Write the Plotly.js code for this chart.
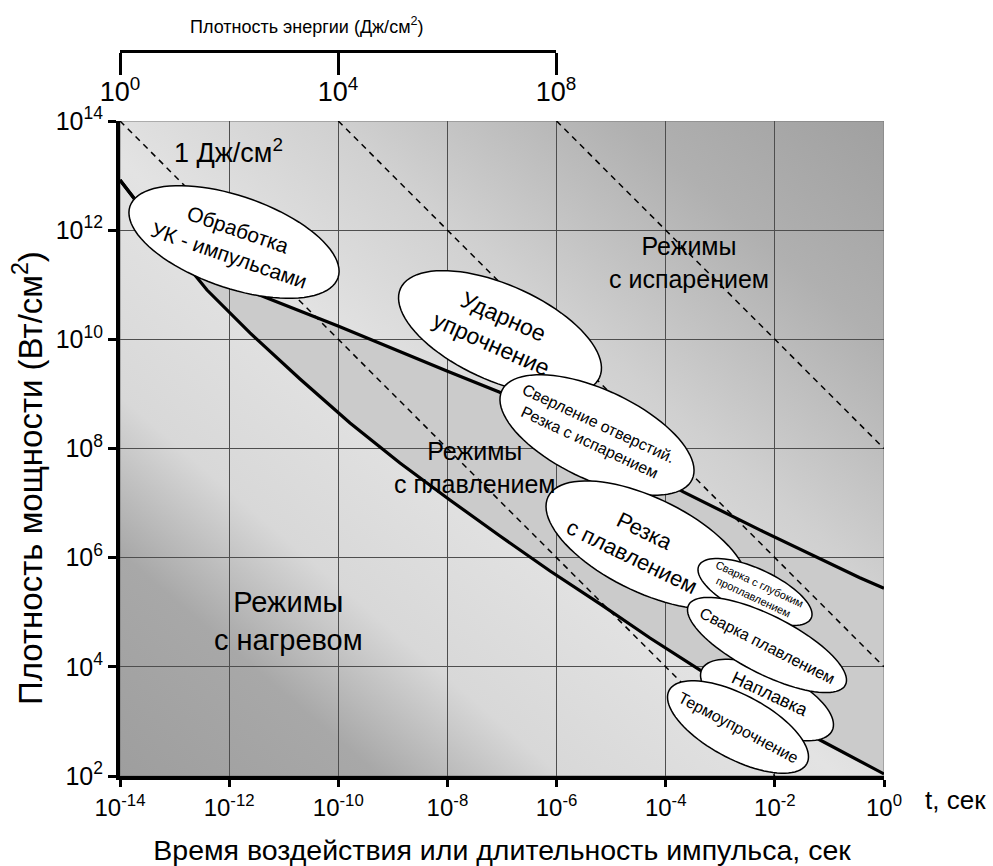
<!DOCTYPE html>
<html><head><meta charset="utf-8">
<script src="https://cdn.plot.ly/plotly-3.0.1.min.js"></script>
<style>html,body{margin:0;padding:0;background:#fff}</style>
</head><body>
<div id="chart" style="width:993px;height:866px"></div>
<script>
// ---------- data ----------
const xTickVals = [1e-14, 1e-12, 1e-10, 1e-8, 1e-6, 1e-4, 1e-2, 1];
const xTickText = ['10<sup>-14</sup>', '10<sup>-12</sup>', '10<sup>-10</sup>', '10<sup>-8</sup>', '10<sup>-6</sup>', '10<sup>-4</sup>', '10<sup>-2</sup>', '10<sup>0</sup>'];
const yTickVals = [1e2, 1e4, 1e6, 1e8, 1e10, 1e12, 1e14];
const yTickText = ['10<sup>2</sup>', '10<sup>4</sup>', '10<sup>6</sup>', '10<sup>8</sup>', '10<sup>10</sup>', '10<sup>12</sup>', '10<sup>14</sup>'];
const energyTickVals = [1, 1e4, 1e8];
const energyTickText = ['10<sup>0</sup>', '10<sup>4</sup>', '10<sup>8</sup>'];
// constant-energy (J/cm2) dashed lines
const energyLevels = [1, 1e4, 1e8];
// upper boundary (evaporation threshold)
const upperT = [1e-14, 5.4e-14, 2.9e-13, 1.58e-12, 6.3e-12, 9.9e-11, 9.8e-9, 9.1e-8, 6.3e-6, 2.1e-4, 5.4e-3, 0.36, 1];
const upperP = [8.3e12, 9.25e11, 2.03e11, 9.1e10, 5.2e10, 1.75e10, 2.63e9, 1.07e9, 1.15e8, 1.6e7, 3.2e6, 4.3e5, 2.75e5];
// lower boundary (melting threshold)
const lowerT = [1e-14, 5.4e-14, 3.93e-13, 2.41e-12, 1.99e-11, 1.64e-10, 1.35e-9, 1.11e-8, 9.2e-8, 7.6e-7, 6.25e-6, 5.15e-5, 4.26e-4, 5.35e-3, 6.73e-2, 1];
const lowerP = [8.3e12, 9.25e11, 8.0e10, 1.31e10, 1.88e9, 2.93e8, 5.42e7, 1.14e7, 2.49e6, 5.7e5, 1.42e5, 3.37e4, 8.7e3, 1.91e3, 4.56e2, 1.09e2];

// ---------- geometry / style ----------
const FONT = 'Liberation Sans, Arial, sans-serif';
const ML = 120, MR = 109, MT = 40, MB = 90, FW = 993, FH = 866;
const PW = FW - ML - MR, PH = FH - MT - MB;      // 764 x 736
const PLOT_BOTTOM = FH - MB;                       // 776
const PLOT_TOP_PX = 121;
const yDomTop = (PLOT_BOTTOM - PLOT_TOP_PX) / PH;
const px2x = p => (p - ML) / PW;
const py2y = p => (PLOT_BOTTOM - p) / PH;

// ellipse labels (pixel layout)
const bubbles = [
  {cx: 234, cy: 242, a: 110, b: 46, ang: 19, tx: 233, ty: 242, text: 'Обработка<br>УК - импульсами', size: 21},
  {cx: 500, cy: 333, a: 109, b: 48, ang: 24, tx: 497, ty: 330, text: 'Ударное<br>упрочнение', size: 23},
  {cx: 597, cy: 435, a: 105, b: 45, ang: 25, tx: 594, ty: 433, text: 'Сверление отверстий.<br>Резка с испарением', size: 16},
  {cx: 647, cy: 545, a: 110, b: 47, ang: 26, tx: 638, ty: 544, text: 'Резка<br>с плавлением', size: 22},
  {cx: 755, cy: 592, a: 62, b: 23, ang: 25, tx: 756, ty: 590, text: 'Сварка с глубоким<br>проплавлением', size: 11},
  {cx: 767, cy: 700, a: 72, b: 30, ang: 25, tx: 770, ty: 694, text: 'Наплавка', size: 18},
  {cx: 767, cy: 645, a: 88, b: 29, ang: 27, tx: 767, ty: 645, text: 'Сварка плавлением', size: 16},
  {cx: 738, cy: 727, a: 78, b: 32, ang: 28, tx: 738, ty: 727, text: 'Термоупрочнение', size: 16}
];

function ellipsePath(e) {
  const n = 90, phi = e.ang * Math.PI / 180;
  let s = '';
  for (let k = 0; k < n; k++) {
    const t = 2 * Math.PI * k / n;
    const dx = e.a * Math.cos(t) * Math.cos(phi) - e.b * Math.sin(t) * Math.sin(phi);
    const dy = e.a * Math.cos(t) * Math.sin(phi) + e.b * Math.sin(t) * Math.cos(phi);
    s += (k === 0 ? 'M' : 'L') + px2x(e.cx + dx).toFixed(5) + ',' + py2y(e.cy + dy).toFixed(5) + ' ';
  }
  return s + 'Z';
}

// background gradient (diagonal light band)
const gradSvg = "<svg xmlns='http://www.w3.org/2000/svg' width='764' height='655' viewBox='0 0 764 655' preserveAspectRatio='none'>" +
  "<defs><linearGradient id='g' x1='0' y1='1' x2='1' y2='0'>" +
  "<stop offset='0' stop-color='#9e9e9e'/>" +
  "<stop offset='0.17' stop-color='#a8a8a8'/>" +
  "<stop offset='0.29' stop-color='#d8d8d8'/>" +
  "<stop offset='0.47' stop-color='#e3e3e3'/>" +
  "<stop offset='0.64' stop-color='#d0d0d0'/>" +
  "<stop offset='0.83' stop-color='#b0b0b0'/>" +
  "<stop offset='1' stop-color='#a0a0a0'/>" +
  "</linearGradient></defs><rect width='764' height='655' fill='url(#g)'/></svg>";

// band between the two boundaries
let bandPath = 'M' + upperT.map((t, i) => t + ',' + upperP[i]).join(' L');
for (let i = lowerT.length - 1; i >= 0; i--) bandPath += ' L' + lowerT[i] + ',' + lowerP[i];
bandPath += ' Z';

// ---------- traces ----------
const traces = [];
energyLevels.forEach(E => {
  const tStart = E / 1e14, tEnd = Math.min(1, E / 1e2);
  traces.push({x: [tStart, tEnd], y: [E / tStart, E / tEnd], mode: 'lines', xaxis: 'x', yaxis: 'y',
    line: {color: '#000', width: 1.5, dash: '6px,5px'}, hoverinfo: 'skip', showlegend: false});
});
traces.push({x: upperT, y: upperP, mode: 'lines', line: {color: '#000', width: 3.2}, hoverinfo: 'skip', showlegend: false});
traces.push({x: lowerT, y: lowerP, mode: 'lines', line: {color: '#000', width: 3.2}, hoverinfo: 'skip', showlegend: false});
traces.push({x: energyTickVals, y: [0.5, 0.5, 0.5], xaxis: 'x2', yaxis: 'y2', mode: 'markers',
  marker: {opacity: 0}, hoverinfo: 'skip', showlegend: false});

// ---------- shapes ----------
const shapes = [
  {type: 'path', xref: 'x', yref: 'y', path: bandPath, fillcolor: '#cbcbcb', line: {width: 0}, layer: 'below'},
  {type: 'rect', xref: 'x', yref: 'y', x0: 1e-14, x1: 1, y0: 1e2, y1: 1e14, fillcolor: 'rgba(0,0,0,0)', line: {color: '#7a7a7a', width: 1}, layer: 'below'}
];
bubbles.forEach(e => shapes.push({type: 'path', xref: 'paper', yref: 'paper', path: ellipsePath(e),
  fillcolor: '#ffffff', line: {color: '#000', width: 1.5}, layer: 'above'}));

// ---------- annotations ----------
const ann = [];
const addText = (px, py, text, size, angle) => ann.push({xref: 'paper', yref: 'paper', x: px2x(px), y: py2y(py),
  text: text, showarrow: false, textangle: angle || 0, font: {family: FONT, size: size, color: '#000'},
  xanchor: 'center', yanchor: 'middle'});
bubbles.forEach(e => addText(e.tx, e.ty, e.text, e.size, e.ang));
addText(228, 151, '1 Дж/см<sup>2</sup>', 27);
addText(689, 262, 'Режимы<br>с испарением', 25);
addText(475, 467, 'Режимы<br>с плавлением', 25);
addText(288, 621, 'Режимы<br>с нагревом', 29);
addText(307, 25, 'Плотность энергии (Дж/см<sup>2</sup>)', 18);
addText(955, 800, 't, сек', 26);
addText(28, 478, 'Плотность мощности (Вт/см<sup>2</sup>)', 33, -90);

const axisCommon = {
  type: 'log', showgrid: true, gridcolor: '#4e4e4e', gridwidth: 1, zeroline: false,
  showline: true, linecolor: '#000', linewidth: 4,
  ticks: 'outside', tickwidth: 3, tickcolor: '#000', tickmode: 'array'
};

const layout = {
  width: FW, height: FH,
  margin: {l: ML, r: MR, t: MT, b: MB, pad: 0},
  paper_bgcolor: '#ffffff', plot_bgcolor: 'rgba(0,0,0,0)',
  font: {family: FONT, color: '#000'},
  showlegend: false, hovermode: false,
  xaxis: Object.assign({}, axisCommon, {
    range: [-14, 0], domain: [0, 1], anchor: 'y',
    tickvals: xTickVals, ticktext: xTickText, ticklen: 7,
    tickfont: {family: FONT, size: 24, color: '#000'},
    title: {text: 'Время воздействия или длительность импульса, сек', font: {family: FONT, size: 28.5, color: '#000'}, standoff: 24}
  }),
  yaxis: Object.assign({}, axisCommon, {
    range: [2, 14], domain: [0, yDomTop], anchor: 'x',
    tickvals: yTickVals, ticktext: yTickText, ticklen: 8,
    tickfont: {family: FONT, size: 25, color: '#000'}
  }),
  xaxis2: {
    type: 'log', range: [0, 8], domain: [0, px2x(556)], anchor: 'y2', side: 'bottom',
    showgrid: false, zeroline: false, showline: true, linecolor: '#000', linewidth: 3,
    ticks: 'outside', ticklen: 22, tickwidth: 3, tickcolor: '#000', tickmode: 'array',
    tickvals: energyTickVals, ticktext: energyTickText, ticklabelstandoff: -6,
    tickfont: {family: FONT, size: 27, color: '#000'}
  },
  yaxis2: {domain: [py2y(50), 1], range: [0, 1], visible: false, anchor: 'x2'},
  images: [{source: 'data:image/svg+xml;base64,' + btoa(gradSvg), xref: 'paper', yref: 'paper',
    x: 0, y: yDomTop, sizex: 1, sizey: yDomTop, xanchor: 'left', yanchor: 'top', sizing: 'stretch', layer: 'below'}],
  shapes: shapes,
  annotations: ann
};

Plotly.newPlot('chart', traces, layout, {staticPlot: true, displayModeBar: false});
</script>
</body></html>
